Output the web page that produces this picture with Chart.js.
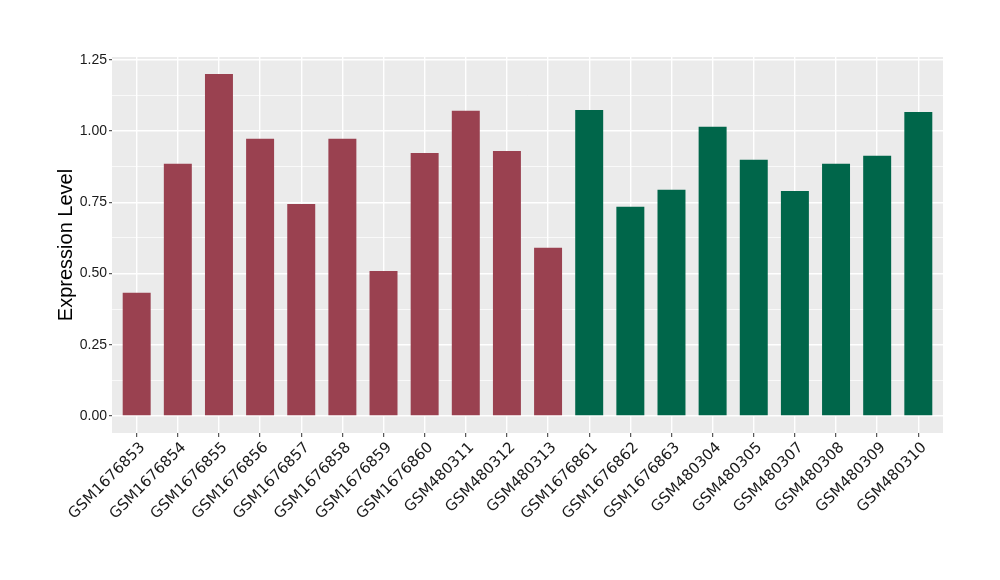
<!DOCTYPE html>
<html>
<head>
<meta charset="utf-8">
<script src="https://cdn.jsdelivr.net/npm/chart.js@4"></script>
<style>
  html, body { margin: 0; padding: 0; background: #fff; }
  #wrap { width: 1000px; height: 580px; }
</style>
</head>
<body>
<div id="wrap"><canvas id="chartOne" width="1000" height="580"></canvas></div>
<script>
// samples along the x axis
const samples = ['GSM1676853', 'GSM1676854', 'GSM1676855', 'GSM1676856', 'GSM1676857',
    'GSM1676858', 'GSM1676859', 'GSM1676860', 'GSM480311', 'GSM480312', 'GSM480313',
    'GSM1676861', 'GSM1676862', 'GSM1676863', 'GSM480304', 'GSM480305', 'GSM480307',
    'GSM480308', 'GSM480309', 'GSM480310'];
// expression values
const expression = [0.432, 0.885, 1.200, 0.973, 0.744, 0.973, 0.509, 0.923, 1.071, 0.930, 0.590,
    1.074, 0.734, 0.794, 1.015, 0.899, 0.790, 0.885, 0.913, 1.067];
// group of each sample (0 = red, 1 = green)
const groups = [0, 0, 0, 0, 0, 0, 0, 0, 0, 0, 0, 1, 1, 1, 1, 1, 1, 1, 1, 1];
const yTicks = [0, 0.25, 0.5, 0.75, 1, 1.25];

const groupColors = ['#9A4150', '#00664A'];
const font = "'Liberation Sans', Arial, sans-serif";

// minor ticks halfway between the major ones
var yAll = [];
yTicks.forEach((t, i) => {
    yAll.push({ value: t, major: true });
    if (i < yTicks.length - 1) yAll.push({ value: (t + yTicks[i + 1]) / 2, major: false });
});

const panelBg = {
    id: 'panelBg',
    beforeDraw(chart) {
        const a = chart.chartArea;
        const ctx = chart.ctx;
        ctx.save();
        ctx.fillStyle = '#EBEBEB';
        ctx.fillRect(a.left, a.top, a.right - a.left, a.bottom - a.top);
        ctx.restore();
    }
};

var chartOne = document.getElementById('chartOne');
var myChart = new Chart(chartOne, {
    type: 'bar',
    data: {
        datasets: [{
            label: 'Expression Level',
            data: expression.map((v, i) => ({ x: i, y: v })),
            backgroundColor: groups.map(g => groupColors[g]),
            borderWidth: 0,
            barPercentage: 0.68,
            categoryPercentage: 1
        }]
    },
    plugins: [panelBg],
    options: {
        responsive: false,
        animation: false,
        layout: { padding: { left: 50, right: 57, top: 57, bottom: 0 } },
        plugins: {
            legend: { display: false },
            tooltip: { enabled: false }
        },
        scales: {
            x: {
                type: 'linear',
                min: -0.6,
                max: samples.length - 0.4,
                offset: false,
                afterBuildTicks: (axis) => {
                    axis.ticks = samples.map((s, i) => ({ value: i }));
                },
                afterFit: (axis) => { axis.height = 147; },
                grid: {
                    offset: false,
                    color: '#FFFFFF',
                    lineWidth: 1.4,
                    drawTicks: true,
                    tickLength: 4,
                    tickColor: '#333333',
                    tickWidth: 1
                },
                border: { display: false },
                ticks: {
                    autoSkip: false,
                    minRotation: 45,
                    maxRotation: 45,
                    padding: 2,
                    labelOffset: 6,
                    color: '#1a1a1a',
                    font: { family: "'DejaVu Sans', sans-serif", size: 15 },
                    callback: (v) => samples[v]
                }
            },
            y: {
                min: -0.06,
                max: 1.26,
                afterBuildTicks: (axis) => {
                    axis.ticks = yAll.map(t => ({ value: t.value }));
                },
                afterFit: (axis) => { axis.width = 62; },
                grid: {
                    color: '#FFFFFF',
                    lineWidth: (c) => (yAll[c.index] && yAll[c.index].major) ? 1.4 : 0.7,
                    tickLength: 3,
                    tickColor: (c) => (yAll[c.index] && yAll[c.index].major) ? '#333333' : 'rgba(0,0,0,0)',
                    tickWidth: 1
                },
                border: { display: false },
                ticks: {
                    padding: 2,
                    color: '#1a1a1a',
                    font: { family: font, size: 14 },
                    callback: (v) => yTicks.includes(v) ? v.toFixed(2) : ''
                },
                title: {
                    display: true,
                    text: 'Expression Level',
                    color: '#000000',
                    font: { family: font, size: 20 },
                    padding: { top: 4, bottom: 4 }
                }
            }
        }
    }
});
</script>
</body>
</html>
